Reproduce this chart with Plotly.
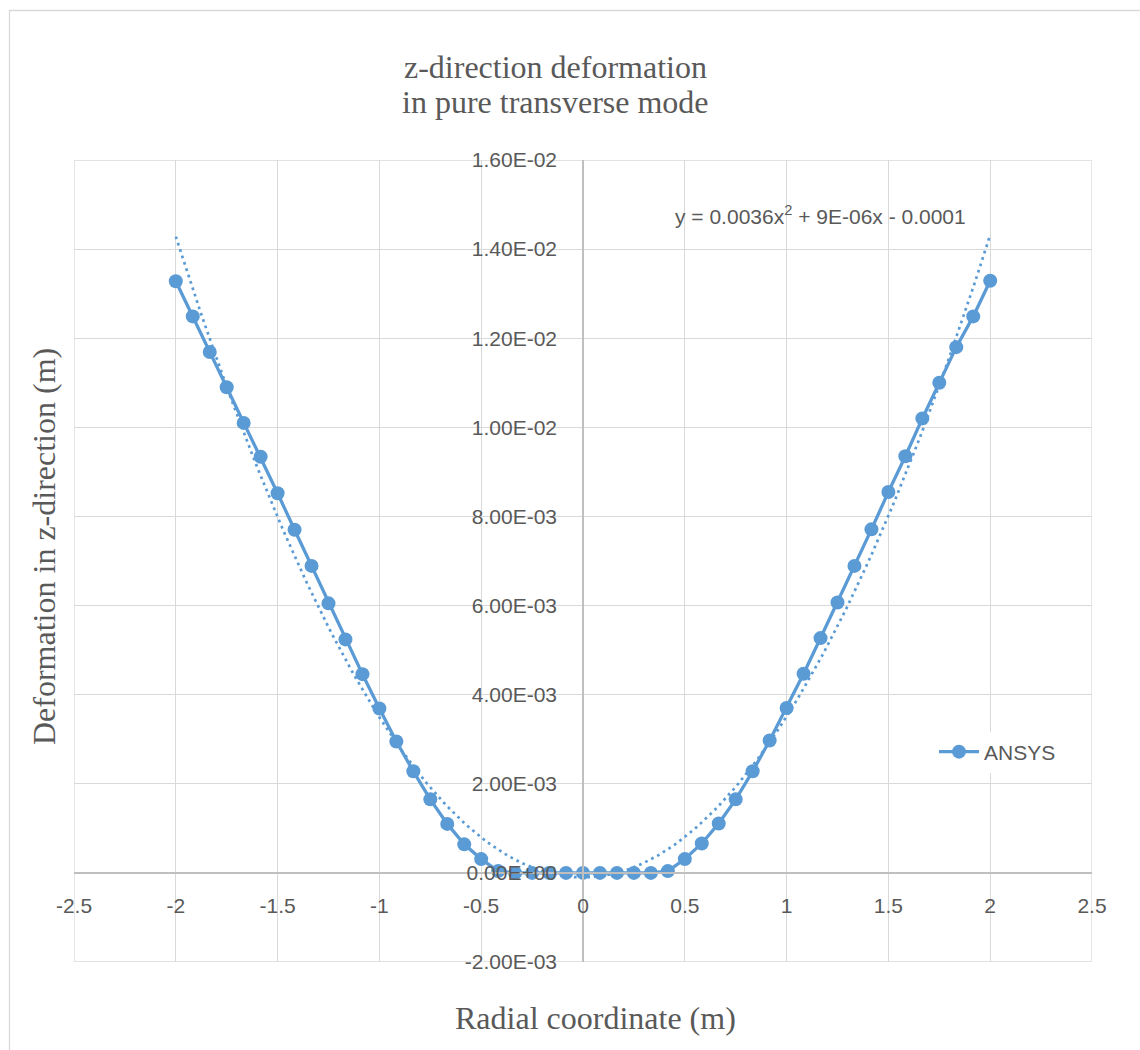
import numpy as np
import plotly.graph_objects as go

# ANSYS z-direction deformation along the radial coordinate
radial_m = [
    -2.0, -1.9167, -1.8333, -1.75, -1.6667, -1.5833, -1.5, -1.4167, -1.3333,
    -1.25, -1.1667, -1.0833, -1.0, -0.9167, -0.8333, -0.75, -0.6667, -0.5833,
    -0.5, -0.4167, -0.3333, -0.25, -0.1667, -0.0833, 0.0, 0.0833, 0.1667,
    0.25, 0.3333, 0.4167, 0.5, 0.5833, 0.6667, 0.75, 0.8333, 0.9167, 1.0,
    1.0833, 1.1667, 1.25, 1.3333, 1.4167, 1.5, 1.5833, 1.6667, 1.75, 1.8333,
    1.9167, 2.0,
]
deformation_m = [
    0.01328, 0.01249, 0.01169, 0.01090, 0.01010, 0.00934, 0.00852, 0.00770,
    0.00689, 0.00605, 0.00524, 0.00446, 0.00369, 0.00295, 0.00228, 0.00165,
    0.00110, 0.00064, 0.00031, 0.00004, 0.0, 0.0, 0.0, 0.0, 0.0, 0.0, 0.0,
    0.0, 0.0, 0.00004, 0.00031, 0.00066, 0.00111, 0.00165, 0.00228, 0.00297,
    0.00370, 0.00447, 0.00527, 0.00607, 0.00689, 0.00771, 0.00855, 0.00935,
    0.01020, 0.01100, 0.01180, 0.01249, 0.01329,
]

# polynomial trendline coefficients (order 2) as reported on the chart
trend_a, trend_b, trend_c = 0.0036, 9e-06, -0.0001
trend_label = "y = 0.0036x<sup>2</sup> + 9E-06x - 0.0001"

x_tick_vals = [-2.5, -2.0, -1.5, -1.0, -0.5, 0.0, 0.5, 1.0, 1.5, 2.0, 2.5]
x_tick_text = ["-2.5", "-2", "-1.5", "-1", "-0.5", "0", "0.5", "1", "1.5", "2", "2.5"]
y_tick_vals = [-0.002, 0.0, 0.002, 0.004, 0.006, 0.008, 0.010, 0.012, 0.014, 0.016]
y_tick_text = ["-2.00E-03", "0.00E+00", "2.00E-03", "4.00E-03", "6.00E-03",
               "8.00E-03", "1.00E-02", "1.20E-02", "1.40E-02", "1.60E-02"]

X_RANGE = [-2.5, 2.5]
Y_RANGE = [-0.002, 0.016]

BLUE = "#5b9bd5"
TEXT = "#595959"
GRID = "#d9d9d9"
AXIS = "#bfbfbf"
SANS = "Liberation Sans, Arial, sans-serif"
SERIF = "Liberation Serif, Times New Roman, serif"

W, H = 1140, 1050
ML, MR, MT, MB = 74, 48, 160, 88
PW, PH = W - ML - MR, H - MT - MB


def px_x(p):
    return (p - ML) / PW


def px_y(p):
    return (H - MB - p) / PH


trend_x = np.linspace(radial_m[0], radial_m[-1], 241)
trend_y = trend_a * trend_x ** 2 + trend_b * trend_x + trend_c

fig = go.Figure()
fig.add_trace(go.Scatter(
    x=trend_x, y=trend_y, mode="lines", showlegend=False, hoverinfo="skip",
    line=dict(color=BLUE, width=2.7, dash="2.7px,4px"),
))
fig.add_trace(go.Scatter(
    x=radial_m, y=deformation_m, mode="lines+markers", name="ANSYS",
    line=dict(color=BLUE, width=3.3),
    marker=dict(color=BLUE, size=14, symbol="circle"),
))

# axes cross at the origin
y_cross = (0 - Y_RANGE[0]) / (Y_RANGE[1] - Y_RANGE[0])
x_cross = (0 - X_RANGE[0]) / (X_RANGE[1] - X_RANGE[0])

grid_style = dict(color=GRID, width=1.3)
edge_lines = [
    dict(type="line", xref="x", yref="paper", x0=X_RANGE[0], x1=X_RANGE[0], y0=0, y1=1,
         line=grid_style, layer="below"),
    dict(type="line", xref="x", yref="paper", x0=X_RANGE[1], x1=X_RANGE[1], y0=0, y1=1,
         line=grid_style, layer="below"),
    dict(type="line", xref="paper", yref="y", x0=0, x1=1, y0=Y_RANGE[0], y1=Y_RANGE[0],
         line=grid_style, layer="below"),
    dict(type="line", xref="paper", yref="y", x0=0, x1=1, y0=Y_RANGE[1], y1=Y_RANGE[1],
         line=grid_style, layer="below"),
]

fig.update_layout(
    width=W, height=H,
    margin=dict(l=ML, r=MR, t=MT, b=MB),
    paper_bgcolor="white", plot_bgcolor="white",
    showlegend=True,
    legend=dict(
        x=px_x(934), y=px_y(752), xanchor="left", yanchor="middle",
        font=dict(family=SANS, size=21, color=TEXT),
        bgcolor="white", itemwidth=40, borderwidth=0,
    ),
    xaxis=dict(
        range=X_RANGE, tickvals=x_tick_vals, ticktext=x_tick_text,
        showgrid=True, gridcolor=GRID, gridwidth=1.3,
        zeroline=False, showline=True, linecolor=AXIS, linewidth=1.5,
        anchor="free", position=y_cross, side="bottom",
        ticks="", ticklabelstandoff=14,
        tickfont=dict(family=SANS, size=21, color=TEXT),
    ),
    yaxis=dict(
        range=Y_RANGE, tickvals=y_tick_vals, ticktext=y_tick_text,
        showgrid=True, gridcolor=GRID, gridwidth=1.3,
        zeroline=False, showline=True, linecolor=AXIS, linewidth=1.5,
        anchor="free", position=x_cross, side="left",
        ticks="", ticklabelstandoff=21,
        tickfont=dict(family=SANS, size=21, color=TEXT),
    ),
    shapes=[
        # chart-area border
        dict(type="rect", xref="paper", yref="paper",
             x0=px_x(9.5), x1=px_x(1160), y0=px_y(1070), y1=px_y(10.5),
             line=dict(color=GRID, width=1.3), layer="below"),
    ] + edge_lines,
    annotations=[
        dict(text="z-direction deformation", x=px_x(555), y=px_y(67),
             xref="paper", yref="paper", xanchor="center", yanchor="middle",
             showarrow=False, font=dict(family=SERIF, size=32, color=TEXT)),
        dict(text="in pure transverse mode", x=px_x(555), y=px_y(102),
             xref="paper", yref="paper", xanchor="center", yanchor="middle",
             showarrow=False, font=dict(family=SERIF, size=32, color=TEXT)),
        dict(text="Radial coordinate (m)", x=px_x(595), y=px_y(1018),
             xref="paper", yref="paper", xanchor="center", yanchor="middle",
             showarrow=False, font=dict(family=SERIF, size=32, color=TEXT)),
        dict(text="Deformation in z-direction (m)", x=px_x(44), y=px_y(547),
             xref="paper", yref="paper", xanchor="center", yanchor="middle",
             textangle=-90, showarrow=False,
             font=dict(family=SERIF, size=32, color=TEXT)),
        dict(text=trend_label, x=px_x(820), y=px_y(215),
             xref="paper", yref="paper", xanchor="center", yanchor="middle",
             showarrow=False, font=dict(family=SANS, size=21, color=TEXT)),
    ],
)

fig.write_html("out.html")
